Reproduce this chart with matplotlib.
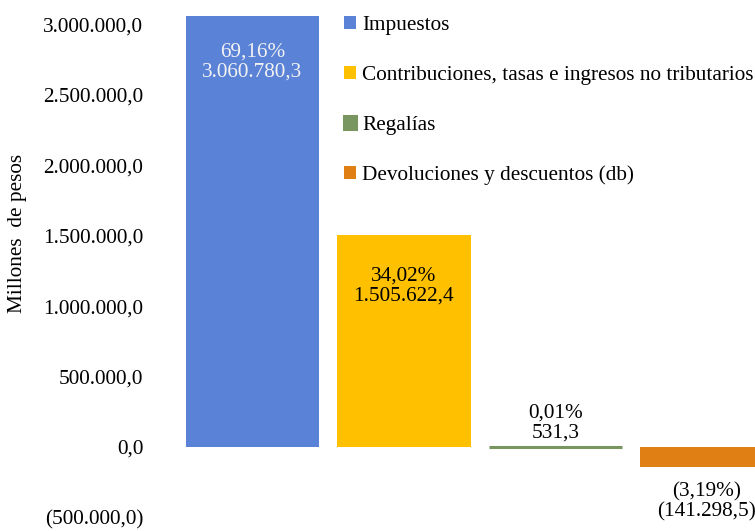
import matplotlib.pyplot as plt
import matplotlib.ticker as mticker

# Datos
categorias = ["Impuestos",
              "Contribuciones, tasas e ingresos no tributarios",
              "Regalías",
              "Devoluciones y descuentos (db)"]
valores = [3060780.3, 1505622.4, 531.3, -141298.5]
porcentajes = [69.16, 34.02, 0.01, -3.19]
colores = ["#5A82D7", "#FFC000", "#7A9660", "#E07F14"]

plt.rcParams['font.family'] = ['Liberation Serif', 'DejaVu Serif']
fs = 15.3

def fmt_num(v):
    s = f"{abs(v):,.1f}".replace(",", "X").replace(".", ",").replace("X", ".")
    return f"({s})" if v < 0 else s

def fmt_pct(p):
    s = f"{abs(p):.2f}".replace(".", ",") + "%"
    return f"({s})" if p < 0 else s

fig = plt.figure(figsize=(7.55, 5.31), dpi=100)
ax = fig.add_axes([0.234, 0.0254, 0.8026, 0.9556])

x = range(len(valores))
barras = ax.bar(x, valores, width=0.88, color=colores, label=categorias, clip_on=False)
# la barra de regalías es casi cero, se dibuja como una línea visible
barras[2].set_edgecolor(colores[2])
barras[2].set_linewidth(2.2)

ax.set_xlim(-0.5, 3.5)
ax.set_ylim(-500000, 3100000)
ax.set_yticks(range(-500000, 3000001, 500000))
ax.yaxis.set_major_formatter(mticker.FuncFormatter(lambda v, p: fmt_num(v)))
ax.tick_params(axis='y', length=0, pad=24, labelsize=fs)
ax.set_xticks([])
for s in ax.spines.values():
    s.set_visible(False)

# Etiquetas de las barras
etiquetas = [f"{fmt_pct(p)}\n{fmt_num(v)}" for p, v in zip(porcentajes, valores)]
pos_y = [2730000, 1142000, 30000, -390000]
va = ['center', 'center', 'bottom', 'center']
col_txt = ['#F2F2F2', 'black', 'black', 'black']
for i in x:
    ax.text(i, pos_y[i], etiquetas[i], ha='center', va=va[i],
            color=col_txt[i], fontsize=fs, linespacing=1.1)

fig.text(18 / 755, 1 - 233 / 531, "Millones  de pesos", rotation=90,
         ha='center', va='center', fontsize=fs)

leg = ax.legend(loc='upper left', bbox_to_anchor=(344 / 755, 1 - 16 / 531),
                bbox_transform=fig.transFigure, frameon=False, fontsize=fs,
                handlelength=0.55, handleheight=0.55, handletextpad=0.3,
                labelspacing=1.45, borderaxespad=0, borderpad=0)

plt.savefig("out.png", dpi=100)
